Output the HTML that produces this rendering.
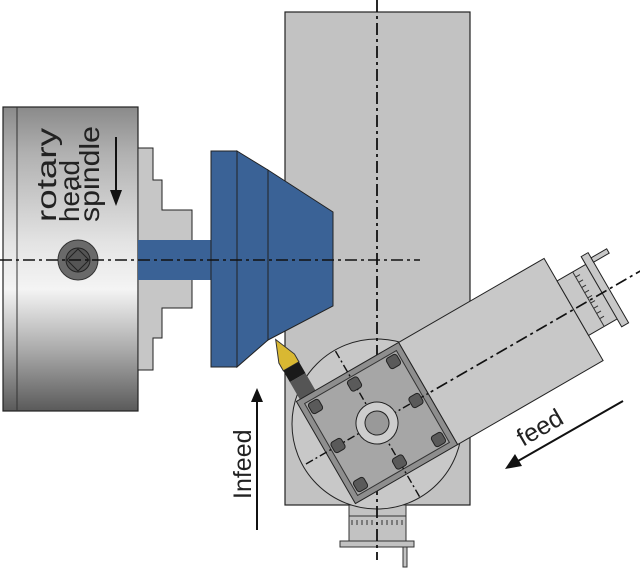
<!DOCTYPE html>
<html><head><meta charset="utf-8"><style>html,body{margin:0;padding:0;background:#fff;}svg{display:block}</style></head>
<body>
<svg width="640" height="575" viewBox="0 0 640 575" xmlns="http://www.w3.org/2000/svg" font-family="Liberation Sans, sans-serif">
<defs>
<linearGradient id="chuck" x1="0" y1="0" x2="0" y2="1">
<stop offset="0" stop-color="#8a8a8a"/>
<stop offset="0.15" stop-color="#b0b0b0"/>
<stop offset="0.45" stop-color="#e4e4e4"/>
<stop offset="0.6" stop-color="#f4f4f4"/>
<stop offset="0.8" stop-color="#aaaaaa"/>
<stop offset="1" stop-color="#5a5a5a"/>
</linearGradient>
</defs>
<rect x="285" y="12" width="185" height="493" fill="#c2c2c2" stroke="#222" stroke-width="1.2"/>
<rect x="349" y="505" width="57" height="36" fill="#c2c2c2" stroke="#333"/>
<line x1="349" y1="516" x2="406" y2="516" stroke="#333"/>
<g stroke="#333" stroke-width="1">
<line x1="352" y1="520" x2="352" y2="525"/><line x1="357" y1="520" x2="357" y2="525"/><line x1="362" y1="520" x2="362" y2="525"/><line x1="367" y1="520" x2="367" y2="525"/><line x1="372" y1="520" x2="372" y2="525"/><line x1="382" y1="520" x2="382" y2="525"/><line x1="387" y1="520" x2="387" y2="525"/><line x1="392" y1="520" x2="392" y2="525"/><line x1="397" y1="520" x2="397" y2="525"/><line x1="402" y1="520" x2="402" y2="525"/>
</g>
<rect x="340" y="541" width="74" height="6" fill="#c2c2c2" stroke="#333"/>
<rect x="403" y="547" width="4" height="20" fill="#c2c2c2" stroke="#333"/>
<circle cx="377" cy="424" r="85" fill="#c8c8c8" stroke="#222" stroke-width="1"/>
<line x1="377" y1="0" x2="377" y2="560" stroke="#111" stroke-width="1.8" stroke-dasharray="12,4,3,4"/>
<g transform="rotate(-30 377 423)">
  <rect x="436" y="364" width="168" height="118" fill="#c8c8c8" stroke="#222"/>
  <rect x="604" y="390" width="36" height="63" fill="#c8c8c8" stroke="#222"/>
  <line x1="622" y1="390" x2="622" y2="453" stroke="#333"/>
  <g stroke="#333">
    <line x1="622" y1="396" x2="627" y2="396"/><line x1="622" y1="402" x2="627" y2="402"/><line x1="622" y1="408" x2="627" y2="408"/><line x1="622" y1="414" x2="627" y2="414"/><line x1="622" y1="420" x2="627" y2="420"/><line x1="622" y1="426" x2="627" y2="426"/><line x1="622" y1="432" x2="627" y2="432"/><line x1="622" y1="438" x2="627" y2="438"/><line x1="622" y1="444" x2="627" y2="444"/>
  </g>
  <rect x="637" y="381" width="8" height="81" fill="#c8c8c8" stroke="#222"/>
  <rect x="645" y="387" width="18" height="5" fill="#c8c8c8" stroke="#222"/>
  <line x1="377" y1="423" x2="688" y2="423" stroke="#111" stroke-width="1.6" stroke-dasharray="12,4,3,4"/>
  <polygon points="331,300 340,322 340,331 322,331 322,322" fill="#d9b832" stroke="#333"/>
  <rect x="322" y="331" width="18" height="13" fill="#1a1a1a"/>
  <rect x="322" y="344" width="18" height="22" fill="#555"/>
  <rect x="318" y="364" width="118" height="118" fill="#8e8e8e" stroke="#222"/>
  <rect x="324" y="370" width="106" height="106" fill="#a6a6a6" stroke="#333"/>
  <line x1="377" y1="340" x2="377" y2="510" stroke="#111" stroke-width="1.4" stroke-dasharray="8,3,2,3"/>
  <line x1="295" y1="423" x2="436" y2="423" stroke="#111" stroke-width="1.4" stroke-dasharray="8,3,2,3"/>
  <circle cx="377" cy="423" r="21" fill="#cdcdcd" stroke="#222"/>
  <circle cx="377" cy="423" r="12" fill="#999" stroke="#222"/>
  <g fill="#5a5a5a" stroke="#222">
    <rect x="326" y="372" width="12" height="12" rx="3"/>
    <rect x="416" y="372" width="12" height="12" rx="3"/>
    <rect x="326" y="462" width="12" height="12" rx="3"/>
    <rect x="416" y="462" width="12" height="12" rx="3"/>
    <rect x="371" y="372" width="12" height="12" rx="3"/>
    <rect x="371" y="462" width="12" height="12" rx="3"/>
    <rect x="326" y="417" width="12" height="12" rx="3"/>
    <rect x="416" y="417" width="12" height="12" rx="3"/>
  </g>
</g>
<rect x="3" y="107" width="135" height="304" fill="url(#chuck)" stroke="#222" stroke-width="1.2"/>
<line x1="17" y1="107" x2="17" y2="411" stroke="#333"/>
<polygon points="138,148 153,148 153,180 162,180 162,210 192,210 192,308 162,308 162,338 153,338 153,370 138,370" fill="#c6c6c6" stroke="#222"/>
<circle cx="78" cy="260" r="20" fill="#6a6a6a" stroke="#333"/>
<circle cx="78" cy="260" r="12" fill="#555" stroke="#222"/>
<polygon points="78,249 89,260 78,271 67,260" fill="none" stroke="#222"/>
<rect x="138" y="240" width="73" height="40" fill="#3a6296"/>
<rect x="211" y="151" width="26" height="216" fill="#3a6296" stroke="#222"/>
<polygon points="237,151 268,170 268,340 237,367" fill="#3a6296" stroke="#222"/>
<polygon points="268,170 333,212 333,306 268,340" fill="#3a6296" stroke="#222"/>
<line x1="0" y1="260" x2="420" y2="260" stroke="#111" stroke-width="1.6" stroke-dasharray="12,4,3,4"/>
<g font-size="28" fill="#222">
<text transform="rotate(-90)" x="-222" y="56" textLength="94" lengthAdjust="spacingAndGlyphs">rotary</text>
<text transform="rotate(-90)" x="-222" y="79" textLength="62" lengthAdjust="spacingAndGlyphs">head</text>
<text transform="rotate(-90)" x="-222" y="99" textLength="96" lengthAdjust="spacingAndGlyphs">spindle</text>
</g>
<g font-size="25" fill="#222">
<text transform="rotate(-90)" x="-499" y="251">Infeed</text>
<text transform="rotate(-30 523 447)" x="523" y="447">feed</text>
</g>
<line x1="116" y1="137" x2="116" y2="192" stroke="#111" stroke-width="2"/>
<polygon points="110,190 122,190 116,206" fill="#111"/>
<line x1="257" y1="400" x2="257" y2="530" stroke="#111" stroke-width="2"/>
<polygon points="251,402 263,402 257,388" fill="#111"/>
<line x1="623" y1="401" x2="518" y2="461" stroke="#111" stroke-width="2"/>
<polygon points="505,469 515,454 522,466" fill="#111"/>
</svg>
</body></html>
